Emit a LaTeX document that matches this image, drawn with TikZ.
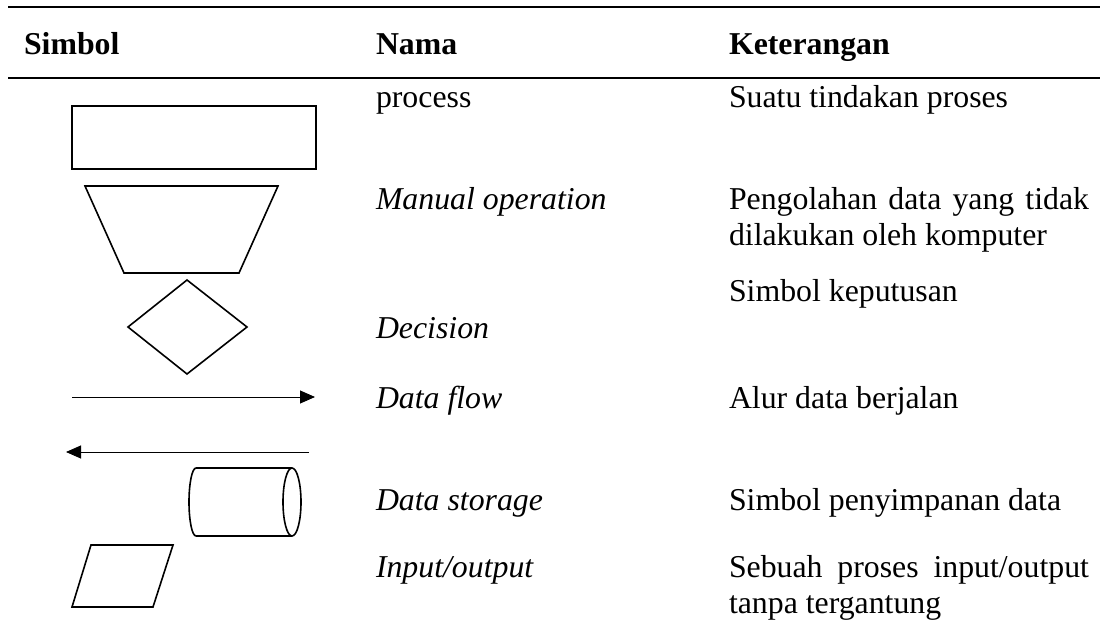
\documentclass[tikz,border=0pt]{standalone}
\usepackage{fontspec}
\setmainfont{Liberation Serif}
\usetikzlibrary{arrows.meta}
\begin{document}
\begin{tikzpicture}[x=1pt,y=1pt,
  txt/.style={anchor=base west,inner sep=0pt,outer sep=0pt,font=\fontsize{31.8}{36}\selectfont},
  hdr/.style={txt,font=\fontsize{31.8}{36}\selectfont\bfseries},
  nm/.style={txt,font=\fontsize{31.8}{36}\selectfont\itshape},
  desc/.style={txt,text width=360pt,align=justify},
  rule/.style={line width=1.7pt},
  sym/.style={line width=1.6pt,line join=miter},
  flow/.style={line width=0.9pt,-{Triangle[length=15pt,width=13pt]}}]
\useasboundingbox (0,0) rectangle (1100,-623);
% rules
\draw[rule] (8,-7) -- (1100,-7);
\draw[rule] (8,-78) -- (1100,-78);
% header
\node[hdr] (h1) at (24,-55) {Simbol};
\node[hdr] (h2) at (376,-55) {Nama};
\node[hdr] (h3) at (729,-55) {Keterangan};
% process
\draw[sym] (72,-106) rectangle (316,-169);
\node[txt] (n1) at (376,-108) {process};
\node[desc] (d1) at (729,-108) {Suatu tindakan proses};
% manual operation
\draw[sym] (85,-186) -- (278,-186) -- (239,-273) -- (124,-273) -- cycle;
\node[nm] (n2) at (376,-209) {Manual operation};
\node[desc] (d2) at (729,-209) {Pengolahan data yang tidak dilakukan oleh komputer};
% decision
\draw[sym] (187,-280) -- (247,-327) -- (187,-374) -- (128,-327) -- cycle;
\node[desc] (d3) at (729,-301) {Simbol keputusan};
\node[nm] (n3) at (376,-338) {Decision};
% data flow
\coordinate (r1) at (72,-397);
\coordinate (r2) at (315,-397);
\draw[flow] (r1) -- (r2);
\coordinate (l1) at (309,-452);
\coordinate (l2) at (66,-452);
\draw[flow] (l1) -- (l2);
\node[nm] (n4) at (376,-408) {Data flow};
\node[desc] (d4) at (729,-408) {Alur data berjalan};
% data storage
\draw[sym] (196,-468) -- (292,-468);
\draw[sym] (196,-536) -- (292,-536);
\draw[sym] (292,-502) ellipse[x radius=9, y radius=34];
\draw[sym] (196,-468) arc[start angle=90, end angle=270, x radius=7, y radius=34];
\node[nm] (n5) at (376,-510) {Data storage};
\node[desc] (d5) at (729,-510) {Simbol penyimpanan data};
% input/output
\draw[sym] (91,-545) -- (173,-545) -- (153,-607) -- (72,-607) -- cycle;
\node[nm] (n6) at (376,-577) {Input/output};
\node[desc] (d6) at (729,-577) {Sebuah proses input/output tanpa tergantung};
\end{tikzpicture}
\end{document}
